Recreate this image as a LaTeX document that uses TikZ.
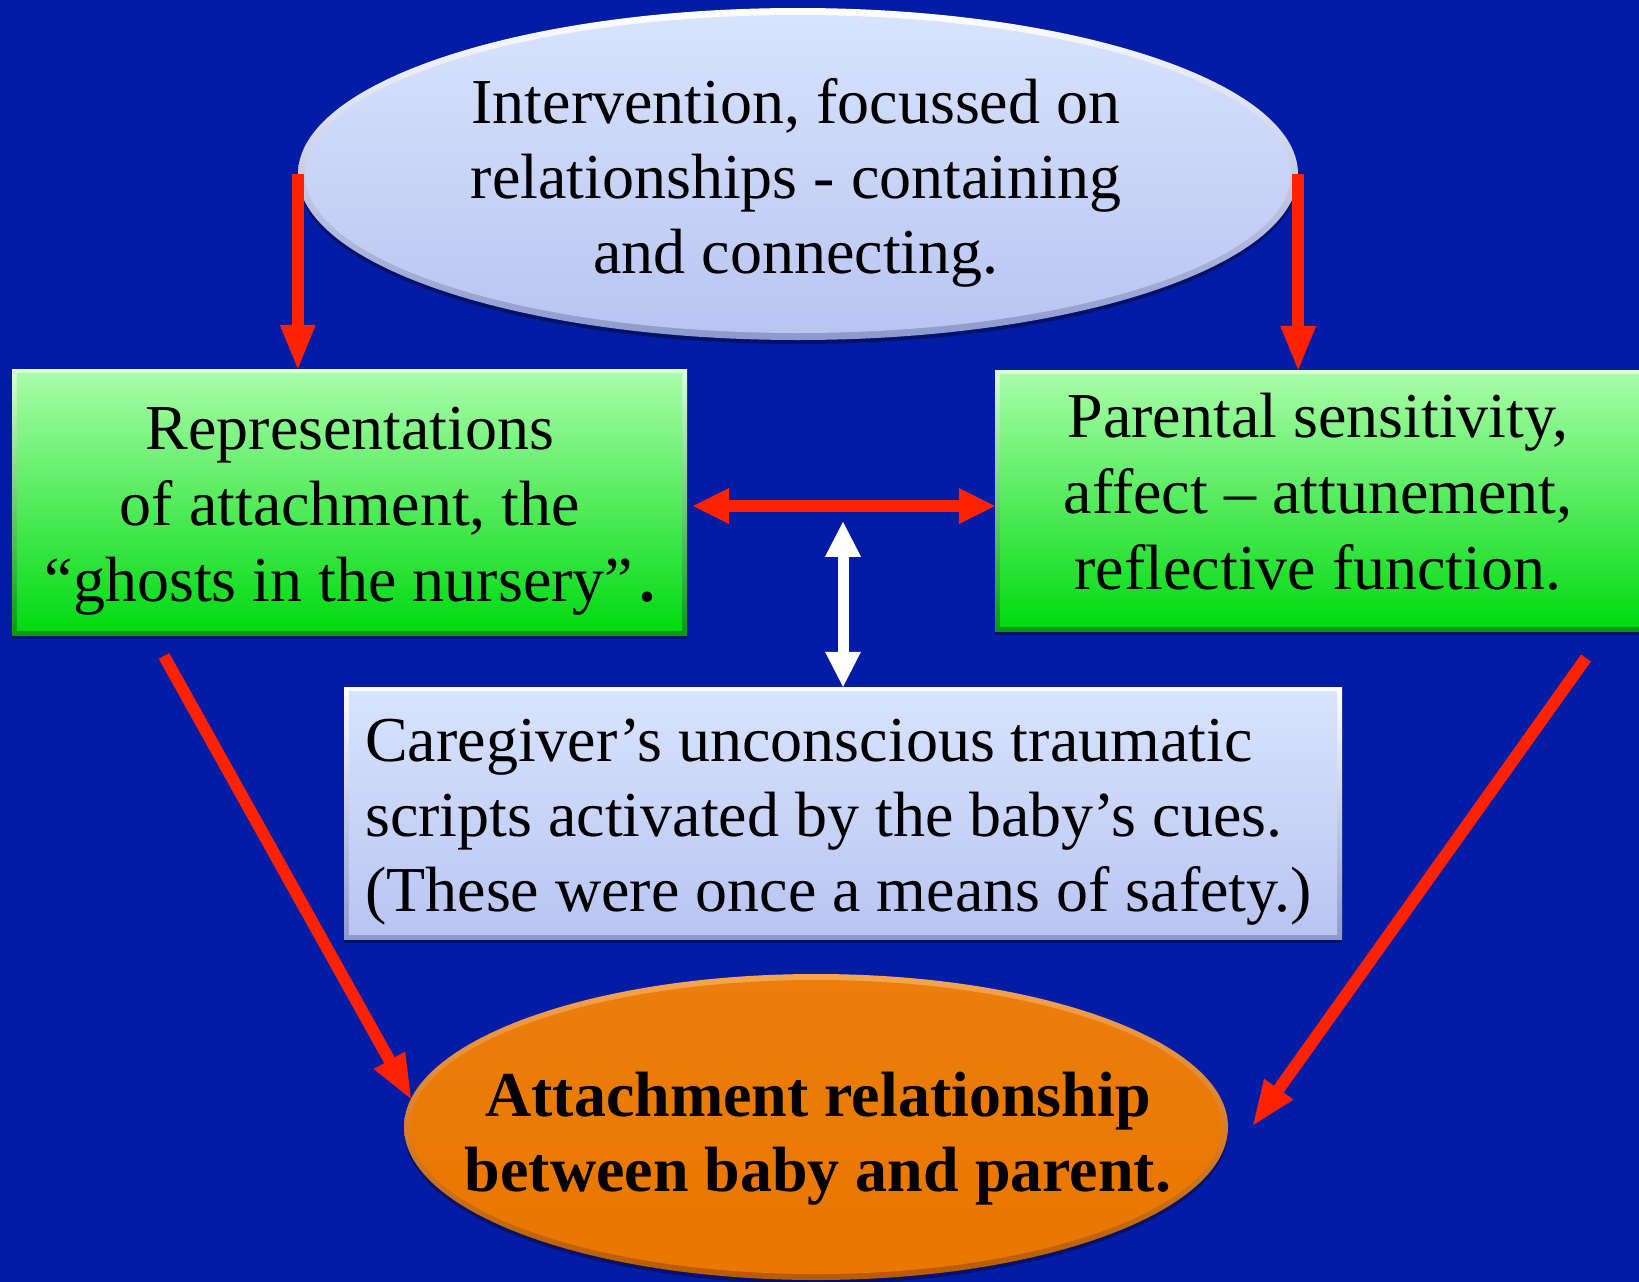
\documentclass[tikz,border=0pt]{standalone}
\usepackage{fontspec}
\setmainfont{Liberation Serif}
\usetikzlibrary{arrows.meta,shapes.geometric,calc,shadows}

\definecolor{bg}{HTML}{031CA6}
\definecolor{arrowred}{HTML}{FF2200}
\definecolor{paletop}{HTML}{D8E3FD}
\definecolor{palebot}{HTML}{B9C5F1}
\definecolor{palerim}{HTML}{8E98CC}
\definecolor{greentop}{HTML}{A8FCA8}
\definecolor{greenbot}{HTML}{02DA12}
\definecolor{greenrim}{HTML}{079A10}
\definecolor{orangemain}{HTML}{E97700}
\definecolor{orangelight}{HTML}{F7A450}
\definecolor{orangerim}{HTML}{B85A00}

\tikzset{
  txt/.style={inner sep=0pt, text=black, font=\fontsize{64}{75}\selectfont},
  bevelshadow/.style={drop shadow={shadow xshift=0pt, shadow yshift=-4pt, opacity=0.35, fill=black}},
  redarrow/.style={draw=arrowred, line width=12pt,
    -{Triangle[width=36pt,length=44pt,line width=0pt]}},
  redtwoway/.style={draw=arrowred, line width=12pt,
    {Triangle[width=36pt,length=36pt,line width=0pt]}-{Triangle[width=36pt,length=36pt,line width=0pt]}},
  whitetwoway/.style={draw=white, line width=11pt,
    {Triangle[width=36pt,length=35pt,line width=0pt]}-{Triangle[width=36pt,length=35pt,line width=0pt]}},
}

\begin{document}
\begin{tikzpicture}[x=1pt,y=-1pt]
\useasboundingbox (0,0) rectangle (1639,1282);
\clip (0,0) rectangle (1639,1282);
\fill[bg] (0,0) rectangle (1639,1282);

% ---- top ellipse: intervention ----
\node[ellipse, inner sep=0pt, minimum width=1000pt, minimum height=332pt,
      top color=white, bottom color=palerim, bevelshadow] (top) at (798,174) {};
\path[top color=paletop, bottom color=palebot] (top.center) ellipse [x radius=493, y radius=159];

% ---- left green box: representations ----
\node[rectangle, inner sep=0pt, minimum width=675pt, minimum height=266pt,
      top color=white!60!greentop, bottom color=greenrim, bevelshadow] (left) at (349.5,502) {};
\path[top color=greentop, bottom color=greenbot]
  ($(left.north west)+(5,5)$) rectangle ($(left.south east)+(-5,-5)$);

% ---- right green box: parental sensitivity ----
\node[rectangle, inner sep=0pt, minimum width=650pt, minimum height=261pt,
      top color=white!60!greentop, bottom color=greenrim, bevelshadow] (right) at (1320,500.5) {};
\path[top color=greentop, bottom color=greenbot]
  ($(right.north west)+(5,5)$) rectangle ($(right.south east)+(-5,-5)$);

% ---- middle box: caregiver scripts ----
\node[rectangle, inner sep=0pt, minimum width=998pt, minimum height=252pt,
      top color=white, bottom color=palerim, bevelshadow] (mid) at (843,813) {};
\path[top color=paletop, bottom color=palebot]
  ($(mid.north west)+(5,5)$) rectangle ($(mid.south east)+(-5,-5)$);

% ---- bottom ellipse: attachment relationship ----
\node[ellipse, inner sep=0pt, minimum width=824pt, minimum height=306pt,
      top color=orangelight, bottom color=orangerim, bevelshadow] (bot) at (816,1127) {};
\path[top color=orangemain!85!orangelight, bottom color=orangemain] (bot.center) ellipse [x radius=406, y radius=147];

% ---- texts ----
\node[txt, align=center] (toptext) at (796,183)
  {Intervention, focussed on\\relationships - containing\\and connecting.};
\node[txt, align=center, font=\fontsize{64}{76}\selectfont] (lefttext) at (350,511)
  {Representations\\of attachment, the\\“ghosts in the nursery”\kern6pt{\bfseries.}};
\node[txt, align=center, font=\fontsize{64}{76}\selectfont] (righttext) at (1318,492)
  {Parental sensitivity,\\affect – attunement,\\reflective function.};
\node[txt, align=left, anchor=west] (midtext) at (365,822)
  {Caregiver’s unconscious traumatic\\scripts activated by the baby’s cues.\\(These were once a means of safety.)};
\node[txt, align=center, font=\fontsize{64}{75}\selectfont\bfseries] (bottext) at (818,1139)
  {Attachment relationship\\between baby and parent.};

% ---- connectors ----
\draw[redarrow] (top.west) -- (top.west |- left.north);
\draw[redarrow] (top.east) -- (top.east |- right.north);

\coordinate (hl) at ($(left.east)+(6,4)$);
\coordinate (hr) at ($(right.west)+(0,5.5)$);
\draw[redtwoway] (hl) -- (hr);

\coordinate (wt) at ($(mid.north)+(0,-165)$);
\draw[whitetwoway] (wt) -- (mid.north);

\coordinate (dl) at (164,656);
\draw[redarrow] (dl) -- (bot.176);

\coordinate (dr) at (1586,658);
\coordinate (drtip) at ($(bot.east)+(25,-2)$);
\draw[redarrow] (dr) -- (drtip);
\end{tikzpicture}
\end{document}
